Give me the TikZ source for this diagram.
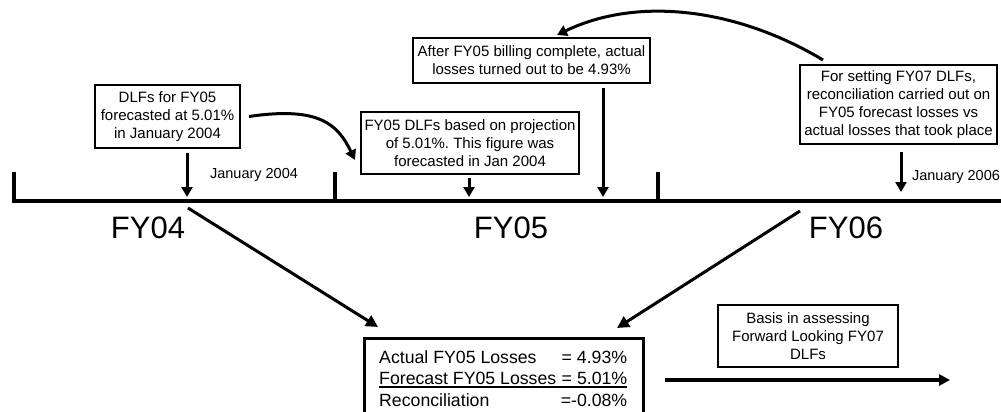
\documentclass[tikz,border=0pt]{standalone}
\usepackage{fontspec}
\setmainfont{Liberation Sans}
\usetikzlibrary{arrows.meta}
\frenchspacing
\begin{document}
\begin{tikzpicture}[x=1pt,y=-1pt,
  box/.style={draw,line width=2pt,align=center,inner sep=0pt,font=\fontsize{15}{17.8}\selectfont},
  arr/.style={line width=3pt,-{Triangle[length=10pt,width=11pt]}},
  fy/.style={font=\fontsize{31}{36}\selectfont,inner sep=0pt},
  small/.style={font=\fontsize{14.5}{17}\selectfont,inner sep=0pt},
  rl/.style={font=\fontsize{17.7}{21}\selectfont,inner sep=0pt,anchor=base west}]
\clip (0,0) rectangle (1001,412);
\fill[white] (0,0) rectangle (1001,412);

% boxes
\node[box,minimum width=145pt,minimum height=63pt] (b1) at (167.5,116.5) {DLFs for FY05\\forecasted at 5.01\%\\in January 2004};
\node[box,minimum width=218pt,minimum height=62pt] (b2) at (470,143) {FY05 DLFs based on projection\\of 5.01\%. This figure was\\forecasted in Jan 2004};
\node[box,minimum width=237pt,minimum height=45pt] (b3) at (531.5,60.5) {After FY05 billing complete, actual\\losses turned out to be 4.93\%};
\node[box,minimum width=197pt,minimum height=79pt] (b4) at (898.5,104.5) {For setting FY07 DLFs,\\reconciliation carried out on\\FY05 forecast losses vs\\actual losses that took place};
\node[box,minimum width=180pt,minimum height=62pt] (b5) at (808,336) {Basis in assessing\\Forward Looking FY07\\DLFs};

% reconciliation box
\node[draw,line width=3pt,minimum width=279pt,minimum height=110pt,anchor=north,inner sep=0pt] (recon) at (503.5,337) {};
\node[rl] (r1) at (379,363) {\makebox[248pt]{Actual FY05 Losses\hfill = 4.93\%}};
\node[rl] (r2) at (379,384) {\makebox[248pt]{Forecast FY05 Losses\hfill = 5.01\%}\llap{\rule[-3.5pt]{248pt}{1.6pt}}};
\node[rl] (r3) at (379,406) {\makebox[248pt]{Reconciliation\hfill =-0.08\%}};

% timeline
\coordinate (tlL) at (12,201);
\coordinate (tlR) at (1001,201);
\draw[line width=4.5pt] (tlL) -- (tlR);
\coordinate (k1) at (14,172);
\coordinate (k2) at (335,172);
\coordinate (k3) at (658,172);
\foreach \k in {k1,k2,k3} \draw[line width=4pt] (\k) -- (\k |- tlL);

% labels
\node[fy] (fy04) at (148,228) {FY04};
\node[fy] (fy05) at (511,228) {FY05};
\node[fy] (fy06) at (846,228) {FY06};
\node[small] (j04) at (254,175) {January 2004};
\node[small] (j06) at (956,177) {January 2006};

% down arrows
\coordinate (a1) at (187,197);
\coordinate (a2) at (469,197);
\coordinate (a3) at (603,197);
\coordinate (a4) at (901,192);
\draw[arr,shorten <=4pt] (b1.south -| a1) -- (a1);
\draw[arr,shorten <=3pt] (b2.south -| a2) -- (a2);
\draw[arr,shorten <=4pt] (b3.south -| a3) -- (a3);
\draw[arr,shorten <=7pt] (b4.south -| a4) -- (a4);

% diagonal arrows
\coordinate (d1s) at (188,208);
\coordinate (d1e) at (378,327);
\coordinate (d2s) at (800,211);
\coordinate (d2e) at (617,328);
\draw[line width=3pt,-{Triangle[length=12pt,width=12pt]}] (d1s) -- (d1e);
\draw[line width=3pt,-{Triangle[length=12pt,width=12pt]}] (d2s) -- (d2e);

% curved arrows
\coordinate (c1e) at (355,160);
\draw[arr] ([xshift=8pt]b1.east) .. controls (320,106) and (338,125) .. (c1e);
\coordinate (c2s) at (823,60);
\coordinate (c2e) at (557,35);
\draw[arr] (c2s) .. controls (740,10) and (640,-5) .. (c2e);

% long arrow
\coordinate (la2) at (950,380);
\draw[line width=4pt,-{Triangle[length=11pt,width=11pt]},shorten <=20pt] (recon.east |- la2) -- (la2);
\end{tikzpicture}
\end{document}
